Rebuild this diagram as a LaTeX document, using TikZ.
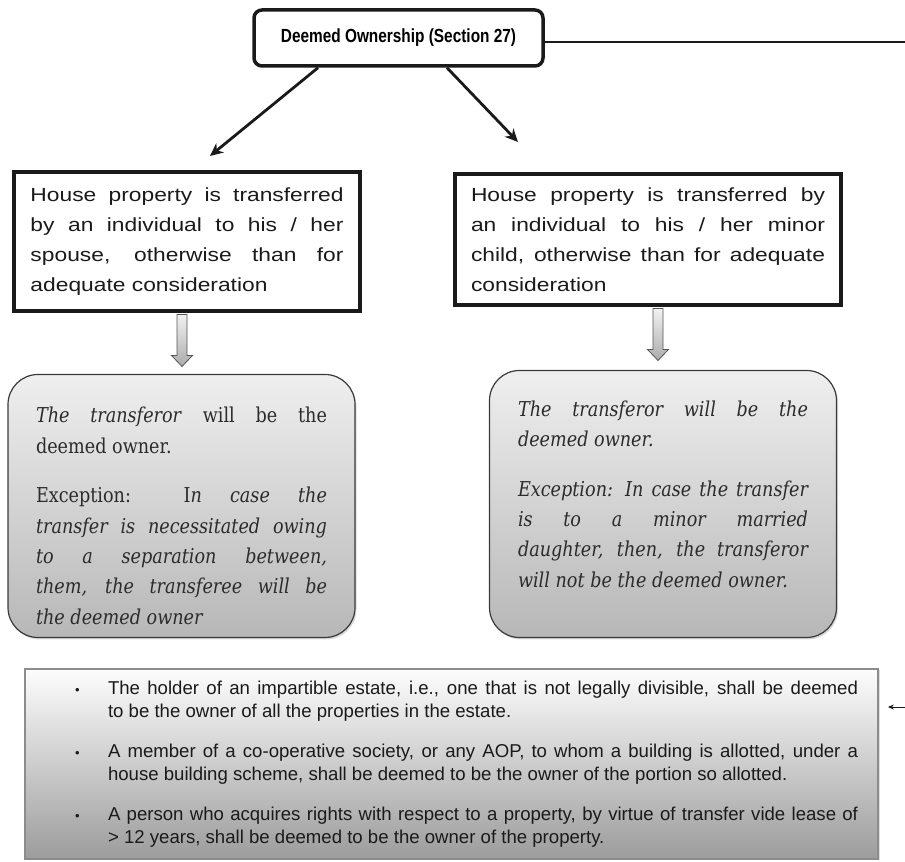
\documentclass[tikz,border=0pt]{standalone}
\usepackage{fontspec}
\setmainfont{Liberation Sans}
\newfontfamily\widesans[FakeStretch=1.2]{Liberation Sans}
\newfontfamily\narrowsans[FakeStretch=0.81]{Liberation Sans}
\newfontfamily\boxserif[FakeStretch=0.86]{DejaVu Serif}
\usepackage{tikz}
\usetikzlibrary{arrows.meta,positioning,shadows}
\definecolor{ink}{HTML}{1A1A1A}
\definecolor{softink}{HTML}{2B2B2B}
\definecolor{roundline}{HTML}{3A3A3A}
\definecolor{roundtop}{HTML}{EFEFEF}
\definecolor{roundbottom}{HTML}{B7B7B7}
\definecolor{noteline}{HTML}{8C8C8C}
\definecolor{notetop}{HTML}{FDFDFD}
\definecolor{notebottom}{HTML}{9C9C9C}
\definecolor{hollowline}{HTML}{555555}
\definecolor{hollowtop}{HTML}{F2F2F2}
\definecolor{hollowbottom}{HTML}{ABABAB}
\newcommand{\notepoint}[1]{\hangindent=36pt\hangafter=1\noindent\makebox[36pt][l]{\hspace{3pt}{\fontsize{13}{13}\selectfont\textbullet}}#1\par}
\tikzset{
  titlebox/.style={draw=ink, line width=3.5pt, rounded corners=8pt, fill=white, align=center, inner sep=0pt, minimum width=289pt, minimum height=56pt, font=\narrowsans\bfseries\fontsize{19}{22}\selectfont},
  casebox/.style={draw=ink, line width=3.5pt, fill=white, align=justify, inner sep=0pt, text=ink, font=\widesans\fontsize{19}{30}\selectfont},
  resultbox/.style={draw=roundline, line width=1.2pt, rounded corners=30pt, top color=roundtop, bottom color=roundbottom, align=justify, inner sep=0pt, text=softink, font=\boxserif\fontsize{20.5}{30.3}\selectfont, drop shadow={opacity=0.3, shadow xshift=1.5pt, shadow yshift=-2pt}},
  notebox/.style={draw=noteline, line width=1.8pt, top color=notetop, bottom color=notebottom, inner sep=0pt, minimum width=853pt, minimum height=190pt, drop shadow={opacity=0.25, shadow xshift=1.5pt, shadow yshift=-1.5pt}},
  notelist/.style={align=justify, inner sep=0pt, text width=786pt, text=ink, font=\fontsize{18.6}{23}\selectfont},
  arrow/.style={-{Stealth[length=13pt, width=12pt]}, line width=2.8pt, draw=ink},
  thinarrow/.style={-{Stealth[length=6pt, width=5pt]}, line width=0.9pt, draw=ink},
  rule/.style={line width=1.3pt, draw=ink},
  hollowdown/.pic={\draw[hollowline, line width=0.8pt, top color=hollowtop, bottom color=hollowbottom]
    (-5,0) -- (5,0) -- (5,-41) -- (10.5,-41) -- (0,-52) -- (-10.5,-41) -- (-5,-41) -- cycle;}
}
\begin{document}
\begin{tikzpicture}[x=1pt, y=1pt]
  \useasboundingbox (0,0) rectangle (905,862);
  % heading
  \node[titlebox] (title) at (398.5,824) {Deemed Ownership (Section 27)};
  \coordinate (redge) at (905,820);
  \coordinate (lhead) at (210,706);
  \coordinate (rhead) at (518,720);

  % the two transfers
  \node[casebox, minimum width=346pt, minimum height=139pt, text width=313pt] (spouse) at (187,620.5)
    {House property is transferred\linebreak by an individual to his / her\linebreak spouse, otherwise than for\linebreak adequate consideration};
  \node[casebox, minimum width=386pt, minimum height=131pt, text width=354pt] (child) at (648,622.5)
    {House property is transferred by\linebreak an individual to his / her minor\linebreak child, otherwise than for adequate\linebreak consideration};
  \pic (spousedown) at ([xshift=-5pt, yshift=-1.75pt]spouse.south) {hollowdown};
  \pic (childdown) at ([xshift=10pt, yshift=-1.75pt]child.south) {hollowdown};

  % who is the deemed owner
  \node[resultbox, minimum width=347pt, minimum height=263pt, text width=291pt] (spouseres) at (181.5,356)
    {\par\vspace*{5pt}\textit{The transferor} will be the\linebreak deemed owner.\\[19.5pt]
     Exception: I\textit{n case the\linebreak transfer is necessitated owing\linebreak to a separation between,\linebreak them, the transferee will be\linebreak the deemed owner}};
  \node[resultbox, minimum width=347pt, minimum height=267pt, text width=290pt] (childres) at (663,358)
    {\itshape The transferor will be the\linebreak deemed owner.\\[19.5pt]
     Exception: In case the transfer\linebreak is to a minor married\linebreak daughter, then, the transferor\linebreak will not be the deemed owner.\par\vspace*{20pt}};

  % other deemed owners
  \node[notebox] (note) at (451.5,98) {};
  \node[notelist] (others) at (465,98)
    {\notepoint{The holder of an impartible estate, i.e., one that is not legally divisible, shall be deemed\linebreak to be the owner of all the properties in the estate.}\vspace{17pt}
     \notepoint{A member of a co-operative society, or any AOP, to whom a building is allotted, under a\linebreak house building scheme, shall be deemed to be the owner of the portion so allotted.}\vspace{17pt}
     \notepoint{A person who acquires rights with respect to a property, by virtue of transfer vide lease of\linebreak > 12 years, shall be deemed to be the owner of the property.}};
  \coordinate (nedge) at (905,155);

  \draw[rule] ([yshift=-4pt]title.east) -- (redge);
  \draw[arrow] ([xshift=-80.5pt]title.south) -- (lhead);
  \draw[arrow] ([xshift=48.5pt]title.south) -- (rhead);
  \draw[thinarrow, shorten >=9pt] (nedge) -- (note.east |- nedge);
\end{tikzpicture}
\end{document}
